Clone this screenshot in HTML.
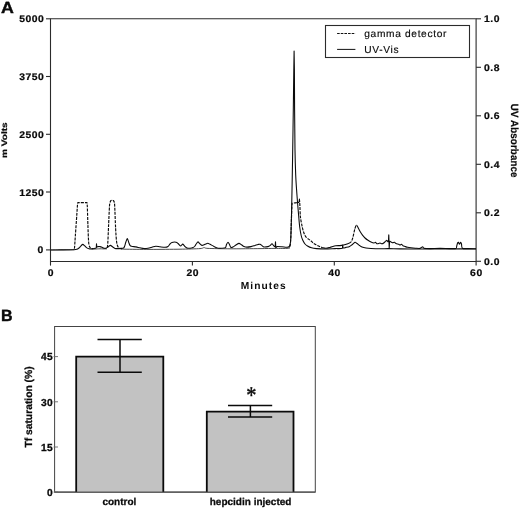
<!DOCTYPE html>
<html><head><meta charset="utf-8"><title>Figure</title>
<style>html,body{margin:0;padding:0;background:#fff}svg{display:block}text{font-family:"Liberation Sans", sans-serif;fill:#0a0a0a;text-rendering:geometricPrecision}.b{font-weight:bold}</style></head><body>
<svg width="520" height="508" viewBox="0 0 520 508">
<rect width="520" height="508" fill="#fff"/>
<text class="b" transform="translate(1.1 12.5) scale(1.1 1)" font-size="16.2" stroke="#0a0a0a" stroke-width="0.4">A</text>
<text class="b" transform="translate(1 320.9) scale(0.99 1)" font-size="16.2" stroke="#0a0a0a" stroke-width="0.4">B</text>
<g stroke="#2b2b2b" stroke-width="1.1" fill="none">
<path d="M50.5 18.8 V261.5 H476.1 V18.8 Z"/>
<path d="M46 18.8 H50.5"/>
<path d="M46 76.5 H50.5"/>
<path d="M46 134.3 H50.5"/>
<path d="M46 192.0 H50.5"/>
<path d="M46 249.9 H50.5"/>
<path d="M476.1 18.8 H481"/>
<path d="M476.1 67.3 H481"/>
<path d="M476.1 115.8 H481"/>
<path d="M476.1 164.3 H481"/>
<path d="M476.1 212.8 H481"/>
<path d="M476.1 261.3 H481"/>
<path d="M50.5 261.5 V265.6"/>
<path d="M192.4 261.5 V265.6"/>
<path d="M334.3 261.5 V265.6"/>
<path d="M476.1 261.5 V265.6"/>
</g>
<text class="b" transform="translate(44.4 22.3) scale(1.08 1)" font-size="9.6" letter-spacing="0.5" stroke="#0a0a0a" stroke-width="0.22" text-anchor="end">5000</text>
<text class="b" transform="translate(44.4 80.0) scale(1.08 1)" font-size="9.6" letter-spacing="0.5" stroke="#0a0a0a" stroke-width="0.22" text-anchor="end">3750</text>
<text class="b" transform="translate(44.4 137.8) scale(1.08 1)" font-size="9.6" letter-spacing="0.5" stroke="#0a0a0a" stroke-width="0.22" text-anchor="end">2500</text>
<text class="b" transform="translate(44.4 195.5) scale(1.08 1)" font-size="9.6" letter-spacing="0.5" stroke="#0a0a0a" stroke-width="0.22" text-anchor="end">1250</text>
<text class="b" transform="translate(43.8 253.0) scale(1.08 1)" font-size="9.6" letter-spacing="0.5" stroke="#0a0a0a" stroke-width="0.22" text-anchor="end">0</text>
<text class="b" transform="translate(484 22.3) scale(1.08 1)" font-size="9.6" letter-spacing="0.5" stroke="#0a0a0a" stroke-width="0.22">1.0</text>
<text class="b" transform="translate(484 70.8) scale(1.08 1)" font-size="9.6" letter-spacing="0.5" stroke="#0a0a0a" stroke-width="0.22">0.8</text>
<text class="b" transform="translate(484 119.3) scale(1.08 1)" font-size="9.6" letter-spacing="0.5" stroke="#0a0a0a" stroke-width="0.22">0.6</text>
<text class="b" transform="translate(484 167.8) scale(1.08 1)" font-size="9.6" letter-spacing="0.5" stroke="#0a0a0a" stroke-width="0.22">0.4</text>
<text class="b" transform="translate(484 216.3) scale(1.08 1)" font-size="9.6" letter-spacing="0.5" stroke="#0a0a0a" stroke-width="0.22">0.2</text>
<text class="b" transform="translate(484 264.8) scale(1.08 1)" font-size="9.6" letter-spacing="0.5" stroke="#0a0a0a" stroke-width="0.22">0.0</text>
<text class="b" transform="translate(50.8 275.7) scale(1.08 1)" font-size="9.6" letter-spacing="0.5" stroke="#0a0a0a" stroke-width="0.22" text-anchor="middle">0</text>
<text class="b" transform="translate(192.7 275.7) scale(1.08 1)" font-size="9.6" letter-spacing="0.5" stroke="#0a0a0a" stroke-width="0.22" text-anchor="middle">20</text>
<text class="b" transform="translate(334.6 275.7) scale(1.08 1)" font-size="9.6" letter-spacing="0.5" stroke="#0a0a0a" stroke-width="0.22" text-anchor="middle">40</text>
<text class="b" transform="translate(476.4 275.7) scale(1.08 1)" font-size="9.6" letter-spacing="0.5" stroke="#0a0a0a" stroke-width="0.22" text-anchor="middle">60</text>
<text class="b" x="263.7" y="288.7" font-size="10.2" letter-spacing="1.05" text-anchor="middle">Minutes</text>
<text class="b" transform="translate(6.9 140.1) rotate(-90) scale(1.06 0.84)" font-size="9.5" stroke="#0a0a0a" stroke-width="0.25" text-anchor="middle">m Volts</text>
<text class="b" transform="translate(511 140.7) rotate(90) scale(0.96 1.03)" font-size="10.2" stroke="#0a0a0a" stroke-width="0.2" letter-spacing="0.1" text-anchor="middle">UV Absorbance</text>
<rect x="325.5" y="25.5" width="144" height="32" fill="#fff" stroke="#2b2b2b" stroke-width="1.1"/>
<path d="M337.1 33.5 H355.4" stroke="#111" stroke-width="1.1" stroke-dasharray="2.6 1.05" fill="none"/>
<path d="M337.1 49.4 H355.4" stroke="#111" stroke-width="1" fill="none"/>
<text x="364.3" y="37.3" font-size="10.2" letter-spacing="0.65" stroke="#0a0a0a" stroke-width="0.15">gamma detector</text>
<text x="364.3" y="52.7" font-size="10.2" letter-spacing="0.65" stroke="#0a0a0a" stroke-width="0.15">UV-Vis</text>
<path d="M50.5 250.0 C51.83 249.99 56.71 249.94 60.0 249.9 C63.29 249.86 71.62 249.80 74.0 249.7 C76.38 249.60 76.30 249.44 77.0 249.2 C77.70 248.96 78.44 248.48 79.0 248.0 C79.56 247.52 80.47 246.30 81.0 245.8 C81.53 245.30 82.31 244.43 82.8 244.4 C83.29 244.37 83.98 245.15 84.5 245.6 C85.02 246.05 85.87 247.15 86.5 247.6 C87.13 248.05 88.23 248.62 89.0 248.8 C89.77 248.98 91.09 248.97 92.0 248.9 C92.91 248.83 94.90 248.50 95.5 248.3 C96.10 248.10 96.16 248.13 96.3 247.5 L96.5 243.8 L96.8 247.0 C97.01 247.39 97.55 246.66 98.0 246.6 C98.45 246.54 99.44 246.50 100.0 246.6 C100.56 246.70 101.44 247.06 102.0 247.3 C102.56 247.54 103.44 248.17 104.0 248.3 C104.56 248.43 105.44 248.38 106.0 248.2 C106.56 248.02 107.38 247.39 108.0 247.0 C108.62 246.61 109.77 245.43 110.4 245.4 C111.03 245.37 111.86 246.38 112.5 246.8 C113.14 247.22 114.23 248.15 115.0 248.4 C115.77 248.65 117.16 248.60 118.0 248.6 C118.84 248.60 120.22 248.48 121.0 248.4 C121.78 248.32 123.10 248.29 123.6 248.0 C124.10 247.71 124.29 247.10 124.6 246.3 C124.91 245.50 125.42 243.38 125.8 242.3 C126.18 241.22 126.91 238.64 127.3 238.6 C127.69 238.56 128.22 241.05 128.6 242.0 C128.98 242.95 129.59 244.80 130.0 245.4 C130.41 246.00 130.66 246.09 131.5 246.3 C132.34 246.51 134.81 246.69 136.0 246.9 C137.19 247.11 138.88 247.58 140.0 247.8 C141.12 248.02 142.88 248.44 144.0 248.5 C145.12 248.56 146.88 248.38 148.0 248.2 C149.12 248.02 150.91 247.48 152.0 247.2 C153.09 246.92 154.68 246.26 155.8 246.2 C156.92 246.14 158.71 246.65 160.0 246.8 C161.29 246.95 163.88 247.34 165.0 247.3 C166.12 247.26 167.30 246.96 168.0 246.5 C168.70 246.04 169.44 244.57 170.0 244.0 C170.56 243.43 171.16 242.65 172.0 242.4 C172.84 242.15 175.16 242.05 176.0 242.2 C176.84 242.35 177.37 242.97 178.0 243.5 C178.63 244.03 179.84 245.92 180.5 246.0 C181.16 246.08 182.14 244.10 182.7 244.1 C183.26 244.10 183.90 245.45 184.5 246.0 C185.10 246.55 186.23 247.68 187.0 248.0 C187.77 248.32 189.16 248.36 190.0 248.3 C190.84 248.24 192.30 247.92 193.0 247.6 C193.70 247.28 194.51 246.57 195.0 246.0 C195.49 245.43 196.08 244.07 196.5 243.5 C196.92 242.93 197.58 241.91 198.0 241.9 C198.42 241.89 198.94 242.91 199.5 243.4 C200.06 243.89 201.23 245.27 202.0 245.4 C202.77 245.53 204.19 244.59 205.0 244.3 C205.81 244.01 207.10 243.30 207.8 243.3 C208.50 243.30 209.13 243.85 210.0 244.3 C210.87 244.75 212.88 245.95 214.0 246.5 C215.12 247.05 216.88 247.95 218.0 248.2 C219.12 248.45 220.95 248.38 222.0 248.3 C223.05 248.22 224.87 248.13 225.5 247.6 C226.13 247.07 226.15 245.26 226.5 244.5 C226.85 243.74 227.58 242.20 228.0 242.2 C228.42 242.20 229.11 243.77 229.5 244.5 C229.89 245.23 230.31 247.05 230.8 247.4 C231.29 247.75 232.27 247.34 233.0 247.0 C233.73 246.66 235.16 245.50 236.0 245.0 C236.84 244.50 238.23 243.43 239.0 243.4 C239.77 243.37 240.80 244.37 241.5 244.8 C242.20 245.23 243.23 246.18 244.0 246.5 C244.77 246.82 246.02 247.09 247.0 247.1 C247.98 247.11 249.88 246.84 251.0 246.6 C252.12 246.36 254.02 245.69 255.0 245.4 C255.98 245.11 257.30 244.67 258.0 244.5 C258.70 244.33 259.44 244.05 260.0 244.2 C260.56 244.35 261.44 245.21 262.0 245.6 C262.56 245.99 263.16 246.86 264.0 247.0 C264.84 247.14 267.16 246.80 268.0 246.6 C268.84 246.40 269.44 245.99 270.0 245.6 C270.56 245.21 271.51 243.81 272.0 243.8 C272.49 243.79 273.05 245.12 273.5 245.5 C273.95 245.88 274.92 247.02 275.2 246.5 L275.5 241.8 L275.8 247.8 C276.01 248.47 276.13 246.74 277.0 246.6 C277.87 246.46 280.74 246.72 282.0 246.8 C283.26 246.88 285.09 247.17 286.0 247.2 C286.91 247.23 287.94 247.31 288.5 247.0 C289.06 246.69 289.68 246.26 290.0 245.0 C290.32 243.74 290.59 242.20 290.8 238.0 C291.01 233.80 291.30 223.12 291.5 215.0 C291.70 206.88 292.03 189.10 292.2 180.0 C292.37 170.90 292.55 159.80 292.7 150.0 C292.85 140.20 293.15 121.20 293.3 110.0 C293.45 98.80 293.69 78.26 293.8 70.0 L294.1 51.0 L294.4 70.0 L294.6 110.0 L295.0 150.0 C295.15 159.10 295.48 169.40 295.7 175.0 C295.92 180.60 296.35 186.22 296.6 190.0 C296.85 193.78 297.22 198.50 297.5 202.0 C297.78 205.50 298.29 211.50 298.6 215.0 C298.91 218.50 299.32 224.06 299.7 227.0 C300.08 229.94 300.87 234.14 301.3 236.0 C301.73 237.86 302.28 239.18 302.8 240.3 C303.32 241.42 304.34 243.20 305.0 244.0 C305.66 244.80 306.59 245.47 307.5 246.0 C308.41 246.53 310.24 247.44 311.5 247.8 C312.76 248.16 314.61 248.43 316.5 248.6 C318.39 248.77 322.41 249.00 325.0 249.0 C327.59 249.00 332.56 248.70 335.0 248.6 C337.44 248.50 341.32 248.80 342.4 248.3 L342.7 245.0 L343.0 248.0 C343.46 248.34 345.08 247.62 346.0 247.4 C346.92 247.18 348.76 246.76 349.6 246.4 C350.44 246.04 351.24 245.37 352.0 244.8 C352.76 244.23 354.30 242.48 355.0 242.3 C355.70 242.12 356.37 243.05 357.0 243.5 C357.63 243.95 358.80 245.01 359.5 245.5 C360.20 245.99 361.09 246.65 362.0 247.0 C362.91 247.35 364.74 247.79 366.0 248.0 C367.26 248.21 369.04 248.39 371.0 248.5 C372.96 248.61 377.54 248.79 380.0 248.8 C382.46 248.81 385.80 248.59 388.6 248.6 C391.40 248.61 395.60 248.84 400.0 248.9 C404.40 248.96 414.40 248.99 420.0 249.0 C425.60 249.01 434.40 249.01 440.0 249.0 C445.60 248.99 454.96 248.90 460.0 248.9 C465.04 248.90 473.76 248.99 476.0 249.0" stroke="#0a0a0a" stroke-width="1.08" fill="none" stroke-linejoin="round"/>
<defs><clipPath id="cd"><rect x="73.8" y="0" width="19.2" height="300"/><rect x="106.5" y="0" width="15.5" height="300"/><rect x="289.0" y="0" width="33.0" height="300"/><rect x="349.0" y="0" width="8.0" height="300"/></clipPath><clipPath id="cs1"><rect x="50.0" y="0" width="23.8" height="300"/><rect x="93.0" y="0" width="13.5" height="300"/><rect x="122.0" y="0" width="167.0" height="300"/></clipPath><clipPath id="cs2"><rect x="322.0" y="0" width="27.0" height="300"/><rect x="357.0" y="0" width="120.0" height="300"/></clipPath></defs>
<path clip-path="url(#cs1)" d="M50.5 249.9 C52.11 249.87 58.68 249.76 62.0 249.7 C65.32 249.64 72.44 249.88 74.2 249.5 L74.6 247.0 C74.77 244.97 75.09 239.48 75.4 235.0 C75.71 230.52 76.51 219.27 76.8 215.0 C77.09 210.73 77.36 206.24 77.5 204.5 L77.8 202.6 L78.2 202.6 C79.45 202.60 85.47 202.60 86.7 202.6 L87.0 202.6 L87.3 206.0 C87.43 209.14 87.75 220.52 87.9 225.0 C88.05 229.48 88.26 235.27 88.4 238.0 C88.54 240.73 88.68 243.17 88.9 244.5 C89.12 245.83 89.64 246.93 90.0 247.5 C90.36 248.07 91.14 248.42 91.5 248.6 C91.86 248.78 92.11 248.74 92.6 248.8 C93.09 248.86 93.96 249.00 95.0 249.0 C96.04 249.00 98.53 248.81 100.0 248.8 C101.47 248.79 104.52 248.98 105.5 248.9 C106.48 248.82 106.68 249.03 107.0 248.2 C107.32 247.37 107.58 246.25 107.8 243.0 C108.02 239.75 108.36 230.18 108.6 225.0 C108.84 219.82 109.28 209.22 109.5 206.0 C109.72 202.78 109.99 202.77 110.2 202.0 C110.41 201.23 110.73 200.75 111.0 200.5 C111.27 200.25 111.78 200.20 112.1 200.2 C112.42 200.20 113.01 200.25 113.3 200.5 C113.59 200.75 114.00 201.23 114.2 202.0 C114.40 202.77 114.50 202.36 114.7 206.0 C114.90 209.64 115.35 223.10 115.6 228.0 C115.85 232.90 116.22 238.48 116.5 241.0 C116.78 243.52 117.25 245.02 117.6 246.0 C117.95 246.98 118.52 247.61 119.0 248.0 C119.48 248.39 120.16 248.63 121.0 248.8 C121.84 248.97 120.94 249.12 125.0 249.2 C129.06 249.28 142.30 249.40 150.0 249.4 C157.70 249.40 173.00 249.31 180.0 249.2 C187.00 249.09 196.64 248.82 200.0 248.6 C203.36 248.38 202.88 247.63 204.0 247.6 C205.12 247.57 204.36 248.23 208.0 248.4 C211.64 248.57 222.72 248.77 230.0 248.8 C237.28 248.83 253.70 248.66 260.0 248.6 C266.30 248.54 271.08 248.44 275.0 248.4 C278.92 248.36 285.90 248.64 288.0 248.3 C290.10 247.96 289.61 247.44 290.0 246.0 C290.39 244.56 290.60 241.64 290.8 238.0 C291.00 234.36 291.23 224.62 291.4 220.0 C291.57 215.38 291.85 207.34 292.0 205.0 C292.15 202.66 291.52 203.69 292.5 203.3 C293.48 202.91 298.03 202.79 299.0 202.2 L299.4 199.1 C299.53 199.60 299.76 203.34 299.9 205.8 C300.04 208.26 300.12 213.97 300.4 216.7 C300.68 219.43 301.47 223.19 301.9 225.3 C302.33 227.41 302.97 230.20 303.5 231.8 C304.03 233.40 304.94 235.64 305.7 236.7 C306.46 237.76 308.14 238.80 308.9 239.4 C309.66 240.00 310.48 240.47 311.1 241.0 C311.72 241.53 312.61 242.67 313.3 243.2 C313.99 243.73 315.12 244.34 316.0 244.8 C316.88 245.26 318.62 246.08 319.6 246.5 C320.58 246.92 322.10 247.55 323.0 247.8 C323.90 248.05 325.02 248.36 326.0 248.3 C326.98 248.24 328.63 247.75 330.0 247.4 C331.37 247.05 334.40 246.05 335.8 245.8 C337.20 245.55 338.92 245.71 340.0 245.6 C341.08 245.49 342.52 245.22 343.5 245.0 C344.48 244.78 345.95 244.42 347.0 244.0 C348.05 243.58 350.16 242.98 351.0 242.0 C351.84 241.02 352.47 238.82 353.0 237.0 C353.53 235.18 354.31 230.68 354.8 229.0 C355.29 227.32 355.98 225.07 356.5 225.0 C357.02 224.93 357.95 227.52 358.5 228.5 C359.05 229.48 359.84 231.06 360.4 232.0 C360.96 232.94 361.86 234.36 362.5 235.2 C363.14 236.04 364.23 237.29 365.0 238.0 C365.77 238.71 367.16 239.74 368.0 240.3 C368.84 240.86 370.16 241.62 371.0 242.0 C371.84 242.38 373.37 242.94 374.0 243.0 C374.63 243.06 375.04 242.29 375.5 242.4 C375.96 242.51 376.67 243.72 377.3 243.8 C377.93 243.88 379.34 243.00 380.0 243.0 C380.66 243.00 381.44 243.84 382.0 243.8 C382.56 243.76 383.37 243.18 384.0 242.7 C384.63 242.22 385.90 240.55 386.5 240.4 C387.10 240.25 387.98 242.36 388.3 241.6 C388.62 240.84 388.67 234.10 388.8 235.0 L389.2 248.0 L389.6 241.5 C389.85 240.66 390.57 241.83 391.0 242.0 C391.43 242.17 392.21 242.67 392.7 242.7 C393.19 242.73 394.04 242.07 394.5 242.2 C394.96 242.33 395.40 243.32 396.0 243.6 C396.60 243.88 398.24 243.98 398.8 244.2 C399.36 244.42 399.62 245.20 400.0 245.2 C400.38 245.20 401.08 244.12 401.5 244.2 C401.92 244.28 402.51 245.48 403.0 245.8 C403.49 246.12 404.34 246.29 405.0 246.5 C405.66 246.71 406.86 247.12 407.7 247.3 C408.54 247.48 409.92 247.67 411.0 247.8 C412.08 247.93 414.14 248.12 415.4 248.2 C416.66 248.28 418.99 248.60 420.0 248.4 C421.01 248.20 422.04 246.81 422.6 246.8 C423.16 246.79 422.96 248.05 424.0 248.3 C425.04 248.55 427.76 248.59 430.0 248.6 C432.24 248.61 437.20 248.40 440.0 248.4 C442.80 248.40 447.76 248.60 450.0 248.6 C452.24 248.60 455.06 248.76 456.0 248.4 C456.94 248.04 456.48 246.76 456.7 246.0 C456.92 245.24 457.36 243.52 457.6 243.0 C457.84 242.48 458.13 242.12 458.4 242.3 C458.67 242.48 459.19 244.30 459.5 244.3 C459.81 244.30 460.32 242.34 460.6 242.3 C460.88 242.26 461.26 243.17 461.5 244.0 C461.74 244.83 461.39 247.56 462.3 248.2 C463.21 248.84 466.08 248.52 468.0 248.6 C469.92 248.68 474.88 248.77 476.0 248.8" stroke="#2a2a2a" stroke-width="0.85" fill="none" stroke-linejoin="round"/>
<path clip-path="url(#cs2)" d="M50.5 249.9 C52.11 249.87 58.68 249.76 62.0 249.7 C65.32 249.64 72.44 249.88 74.2 249.5 L74.6 247.0 C74.77 244.97 75.09 239.48 75.4 235.0 C75.71 230.52 76.51 219.27 76.8 215.0 C77.09 210.73 77.36 206.24 77.5 204.5 L77.8 202.6 L78.2 202.6 C79.45 202.60 85.47 202.60 86.7 202.6 L87.0 202.6 L87.3 206.0 C87.43 209.14 87.75 220.52 87.9 225.0 C88.05 229.48 88.26 235.27 88.4 238.0 C88.54 240.73 88.68 243.17 88.9 244.5 C89.12 245.83 89.64 246.93 90.0 247.5 C90.36 248.07 91.14 248.42 91.5 248.6 C91.86 248.78 92.11 248.74 92.6 248.8 C93.09 248.86 93.96 249.00 95.0 249.0 C96.04 249.00 98.53 248.81 100.0 248.8 C101.47 248.79 104.52 248.98 105.5 248.9 C106.48 248.82 106.68 249.03 107.0 248.2 C107.32 247.37 107.58 246.25 107.8 243.0 C108.02 239.75 108.36 230.18 108.6 225.0 C108.84 219.82 109.28 209.22 109.5 206.0 C109.72 202.78 109.99 202.77 110.2 202.0 C110.41 201.23 110.73 200.75 111.0 200.5 C111.27 200.25 111.78 200.20 112.1 200.2 C112.42 200.20 113.01 200.25 113.3 200.5 C113.59 200.75 114.00 201.23 114.2 202.0 C114.40 202.77 114.50 202.36 114.7 206.0 C114.90 209.64 115.35 223.10 115.6 228.0 C115.85 232.90 116.22 238.48 116.5 241.0 C116.78 243.52 117.25 245.02 117.6 246.0 C117.95 246.98 118.52 247.61 119.0 248.0 C119.48 248.39 120.16 248.63 121.0 248.8 C121.84 248.97 120.94 249.12 125.0 249.2 C129.06 249.28 142.30 249.40 150.0 249.4 C157.70 249.40 173.00 249.31 180.0 249.2 C187.00 249.09 196.64 248.82 200.0 248.6 C203.36 248.38 202.88 247.63 204.0 247.6 C205.12 247.57 204.36 248.23 208.0 248.4 C211.64 248.57 222.72 248.77 230.0 248.8 C237.28 248.83 253.70 248.66 260.0 248.6 C266.30 248.54 271.08 248.44 275.0 248.4 C278.92 248.36 285.90 248.64 288.0 248.3 C290.10 247.96 289.61 247.44 290.0 246.0 C290.39 244.56 290.60 241.64 290.8 238.0 C291.00 234.36 291.23 224.62 291.4 220.0 C291.57 215.38 291.85 207.34 292.0 205.0 C292.15 202.66 291.52 203.69 292.5 203.3 C293.48 202.91 298.03 202.79 299.0 202.2 L299.4 199.1 C299.53 199.60 299.76 203.34 299.9 205.8 C300.04 208.26 300.12 213.97 300.4 216.7 C300.68 219.43 301.47 223.19 301.9 225.3 C302.33 227.41 302.97 230.20 303.5 231.8 C304.03 233.40 304.94 235.64 305.7 236.7 C306.46 237.76 308.14 238.80 308.9 239.4 C309.66 240.00 310.48 240.47 311.1 241.0 C311.72 241.53 312.61 242.67 313.3 243.2 C313.99 243.73 315.12 244.34 316.0 244.8 C316.88 245.26 318.62 246.08 319.6 246.5 C320.58 246.92 322.10 247.55 323.0 247.8 C323.90 248.05 325.02 248.36 326.0 248.3 C326.98 248.24 328.63 247.75 330.0 247.4 C331.37 247.05 334.40 246.05 335.8 245.8 C337.20 245.55 338.92 245.71 340.0 245.6 C341.08 245.49 342.52 245.22 343.5 245.0 C344.48 244.78 345.95 244.42 347.0 244.0 C348.05 243.58 350.16 242.98 351.0 242.0 C351.84 241.02 352.47 238.82 353.0 237.0 C353.53 235.18 354.31 230.68 354.8 229.0 C355.29 227.32 355.98 225.07 356.5 225.0 C357.02 224.93 357.95 227.52 358.5 228.5 C359.05 229.48 359.84 231.06 360.4 232.0 C360.96 232.94 361.86 234.36 362.5 235.2 C363.14 236.04 364.23 237.29 365.0 238.0 C365.77 238.71 367.16 239.74 368.0 240.3 C368.84 240.86 370.16 241.62 371.0 242.0 C371.84 242.38 373.37 242.94 374.0 243.0 C374.63 243.06 375.04 242.29 375.5 242.4 C375.96 242.51 376.67 243.72 377.3 243.8 C377.93 243.88 379.34 243.00 380.0 243.0 C380.66 243.00 381.44 243.84 382.0 243.8 C382.56 243.76 383.37 243.18 384.0 242.7 C384.63 242.22 385.90 240.55 386.5 240.4 C387.10 240.25 387.98 242.36 388.3 241.6 C388.62 240.84 388.67 234.10 388.8 235.0 L389.2 248.0 L389.6 241.5 C389.85 240.66 390.57 241.83 391.0 242.0 C391.43 242.17 392.21 242.67 392.7 242.7 C393.19 242.73 394.04 242.07 394.5 242.2 C394.96 242.33 395.40 243.32 396.0 243.6 C396.60 243.88 398.24 243.98 398.8 244.2 C399.36 244.42 399.62 245.20 400.0 245.2 C400.38 245.20 401.08 244.12 401.5 244.2 C401.92 244.28 402.51 245.48 403.0 245.8 C403.49 246.12 404.34 246.29 405.0 246.5 C405.66 246.71 406.86 247.12 407.7 247.3 C408.54 247.48 409.92 247.67 411.0 247.8 C412.08 247.93 414.14 248.12 415.4 248.2 C416.66 248.28 418.99 248.60 420.0 248.4 C421.01 248.20 422.04 246.81 422.6 246.8 C423.16 246.79 422.96 248.05 424.0 248.3 C425.04 248.55 427.76 248.59 430.0 248.6 C432.24 248.61 437.20 248.40 440.0 248.4 C442.80 248.40 447.76 248.60 450.0 248.6 C452.24 248.60 455.06 248.76 456.0 248.4 C456.94 248.04 456.48 246.76 456.7 246.0 C456.92 245.24 457.36 243.52 457.6 243.0 C457.84 242.48 458.13 242.12 458.4 242.3 C458.67 242.48 459.19 244.30 459.5 244.3 C459.81 244.30 460.32 242.34 460.6 242.3 C460.88 242.26 461.26 243.17 461.5 244.0 C461.74 244.83 461.39 247.56 462.3 248.2 C463.21 248.84 466.08 248.52 468.0 248.6 C469.92 248.68 474.88 248.77 476.0 248.8" stroke="#0a0a0a" stroke-width="1.08" fill="none" stroke-linejoin="round"/>
<path clip-path="url(#cd)" d="M50.5 249.9 C52.11 249.87 58.68 249.76 62.0 249.7 C65.32 249.64 72.44 249.88 74.2 249.5 L74.6 247.0 C74.77 244.97 75.09 239.48 75.4 235.0 C75.71 230.52 76.51 219.27 76.8 215.0 C77.09 210.73 77.36 206.24 77.5 204.5 L77.8 202.6 L78.2 202.6 C79.45 202.60 85.47 202.60 86.7 202.6 L87.0 202.6 L87.3 206.0 C87.43 209.14 87.75 220.52 87.9 225.0 C88.05 229.48 88.26 235.27 88.4 238.0 C88.54 240.73 88.68 243.17 88.9 244.5 C89.12 245.83 89.64 246.93 90.0 247.5 C90.36 248.07 91.14 248.42 91.5 248.6 C91.86 248.78 92.11 248.74 92.6 248.8 C93.09 248.86 93.96 249.00 95.0 249.0 C96.04 249.00 98.53 248.81 100.0 248.8 C101.47 248.79 104.52 248.98 105.5 248.9 C106.48 248.82 106.68 249.03 107.0 248.2 C107.32 247.37 107.58 246.25 107.8 243.0 C108.02 239.75 108.36 230.18 108.6 225.0 C108.84 219.82 109.28 209.22 109.5 206.0 C109.72 202.78 109.99 202.77 110.2 202.0 C110.41 201.23 110.73 200.75 111.0 200.5 C111.27 200.25 111.78 200.20 112.1 200.2 C112.42 200.20 113.01 200.25 113.3 200.5 C113.59 200.75 114.00 201.23 114.2 202.0 C114.40 202.77 114.50 202.36 114.7 206.0 C114.90 209.64 115.35 223.10 115.6 228.0 C115.85 232.90 116.22 238.48 116.5 241.0 C116.78 243.52 117.25 245.02 117.6 246.0 C117.95 246.98 118.52 247.61 119.0 248.0 C119.48 248.39 120.16 248.63 121.0 248.8 C121.84 248.97 120.94 249.12 125.0 249.2 C129.06 249.28 142.30 249.40 150.0 249.4 C157.70 249.40 173.00 249.31 180.0 249.2 C187.00 249.09 196.64 248.82 200.0 248.6 C203.36 248.38 202.88 247.63 204.0 247.6 C205.12 247.57 204.36 248.23 208.0 248.4 C211.64 248.57 222.72 248.77 230.0 248.8 C237.28 248.83 253.70 248.66 260.0 248.6 C266.30 248.54 271.08 248.44 275.0 248.4 C278.92 248.36 285.90 248.64 288.0 248.3 C290.10 247.96 289.61 247.44 290.0 246.0 C290.39 244.56 290.60 241.64 290.8 238.0 C291.00 234.36 291.23 224.62 291.4 220.0 C291.57 215.38 291.85 207.34 292.0 205.0 C292.15 202.66 291.52 203.69 292.5 203.3 C293.48 202.91 298.03 202.79 299.0 202.2 L299.4 199.1 C299.53 199.60 299.76 203.34 299.9 205.8 C300.04 208.26 300.12 213.97 300.4 216.7 C300.68 219.43 301.47 223.19 301.9 225.3 C302.33 227.41 302.97 230.20 303.5 231.8 C304.03 233.40 304.94 235.64 305.7 236.7 C306.46 237.76 308.14 238.80 308.9 239.4 C309.66 240.00 310.48 240.47 311.1 241.0 C311.72 241.53 312.61 242.67 313.3 243.2 C313.99 243.73 315.12 244.34 316.0 244.8 C316.88 245.26 318.62 246.08 319.6 246.5 C320.58 246.92 322.10 247.55 323.0 247.8 C323.90 248.05 325.02 248.36 326.0 248.3 C326.98 248.24 328.63 247.75 330.0 247.4 C331.37 247.05 334.40 246.05 335.8 245.8 C337.20 245.55 338.92 245.71 340.0 245.6 C341.08 245.49 342.52 245.22 343.5 245.0 C344.48 244.78 345.95 244.42 347.0 244.0 C348.05 243.58 350.16 242.98 351.0 242.0 C351.84 241.02 352.47 238.82 353.0 237.0 C353.53 235.18 354.31 230.68 354.8 229.0 C355.29 227.32 355.98 225.07 356.5 225.0 C357.02 224.93 357.95 227.52 358.5 228.5 C359.05 229.48 359.84 231.06 360.4 232.0 C360.96 232.94 361.86 234.36 362.5 235.2 C363.14 236.04 364.23 237.29 365.0 238.0 C365.77 238.71 367.16 239.74 368.0 240.3 C368.84 240.86 370.16 241.62 371.0 242.0 C371.84 242.38 373.37 242.94 374.0 243.0 C374.63 243.06 375.04 242.29 375.5 242.4 C375.96 242.51 376.67 243.72 377.3 243.8 C377.93 243.88 379.34 243.00 380.0 243.0 C380.66 243.00 381.44 243.84 382.0 243.8 C382.56 243.76 383.37 243.18 384.0 242.7 C384.63 242.22 385.90 240.55 386.5 240.4 C387.10 240.25 387.98 242.36 388.3 241.6 C388.62 240.84 388.67 234.10 388.8 235.0 L389.2 248.0 L389.6 241.5 C389.85 240.66 390.57 241.83 391.0 242.0 C391.43 242.17 392.21 242.67 392.7 242.7 C393.19 242.73 394.04 242.07 394.5 242.2 C394.96 242.33 395.40 243.32 396.0 243.6 C396.60 243.88 398.24 243.98 398.8 244.2 C399.36 244.42 399.62 245.20 400.0 245.2 C400.38 245.20 401.08 244.12 401.5 244.2 C401.92 244.28 402.51 245.48 403.0 245.8 C403.49 246.12 404.34 246.29 405.0 246.5 C405.66 246.71 406.86 247.12 407.7 247.3 C408.54 247.48 409.92 247.67 411.0 247.8 C412.08 247.93 414.14 248.12 415.4 248.2 C416.66 248.28 418.99 248.60 420.0 248.4 C421.01 248.20 422.04 246.81 422.6 246.8 C423.16 246.79 422.96 248.05 424.0 248.3 C425.04 248.55 427.76 248.59 430.0 248.6 C432.24 248.61 437.20 248.40 440.0 248.4 C442.80 248.40 447.76 248.60 450.0 248.6 C452.24 248.60 455.06 248.76 456.0 248.4 C456.94 248.04 456.48 246.76 456.7 246.0 C456.92 245.24 457.36 243.52 457.6 243.0 C457.84 242.48 458.13 242.12 458.4 242.3 C458.67 242.48 459.19 244.30 459.5 244.3 C459.81 244.30 460.32 242.34 460.6 242.3 C460.88 242.26 461.26 243.17 461.5 244.0 C461.74 244.83 461.39 247.56 462.3 248.2 C463.21 248.84 466.08 248.52 468.0 248.6 C469.92 248.68 474.88 248.77 476.0 248.8" stroke="#0a0a0a" stroke-width="1.15" fill="none" stroke-dasharray="3 1.1" stroke-linejoin="round"/>
<rect x="54.6" y="326.5" width="260.7" height="165.6" fill="#fff" stroke="#444" stroke-width="1"/>
<g stroke="#0a0a0a" stroke-width="1.8" fill="#c2c2c2">
<path d="M76.2 492.1 V356.6 H163.3 V492.1"/>
<path d="M206.8 492.1 V411.7 H293.5 V492.1"/>
</g>
<path d="M54.6 492.1 H315.3" stroke="#444" stroke-width="1" fill="none"/>
<g stroke="#0a0a0a" stroke-width="1.5" fill="none">
<path d="M120 339.6 V372.3 M97.5 339.6 H141.8 M97.5 372.3 H141.8"/>
<path d="M250.4 405.6 V416.9 M228 405.6 H272.2 M228 416.9 H272.2"/>
</g>
<g stroke="#666" stroke-width="0.9" fill="none">
<path d="M53.6 356.6 H58"/>
<path d="M53.6 401.8 H58"/>
<path d="M53.6 447.0 H58"/>
<path d="M53.6 492.1 H58"/>
</g>
<text class="b" x="53" y="360.3" font-size="10.2" letter-spacing="0.3" stroke="#0a0a0a" stroke-width="0.3" text-anchor="end">45</text>
<text class="b" x="53" y="405.5" font-size="10.2" letter-spacing="0.3" stroke="#0a0a0a" stroke-width="0.3" text-anchor="end">30</text>
<text class="b" x="53" y="450.7" font-size="10.2" letter-spacing="0.3" stroke="#0a0a0a" stroke-width="0.3" text-anchor="end">15</text>
<text class="b" x="53" y="495.8" font-size="10.2" letter-spacing="0.3" stroke="#0a0a0a" stroke-width="0.3" text-anchor="end">0</text>
<text class="b" transform="translate(31.7 407) rotate(-90)" font-size="10.3" stroke="#0a0a0a" stroke-width="0.25" text-anchor="middle">Tf saturation (%)</text>
<text class="b" x="119.4" y="505" font-size="10" stroke="#0a0a0a" stroke-width="0.25" text-anchor="middle">control</text>
<text class="b" x="250.6" y="505" font-size="10" stroke="#0a0a0a" stroke-width="0.25" text-anchor="middle">hepcidin injected</text>
<text transform="translate(251.3 402.8) scale(1.02 1.2)" font-size="20" text-anchor="middle" stroke="#0a0a0a" stroke-width="0.35" style="font-family:'Liberation Serif',serif">*</text>
</svg></body></html>
